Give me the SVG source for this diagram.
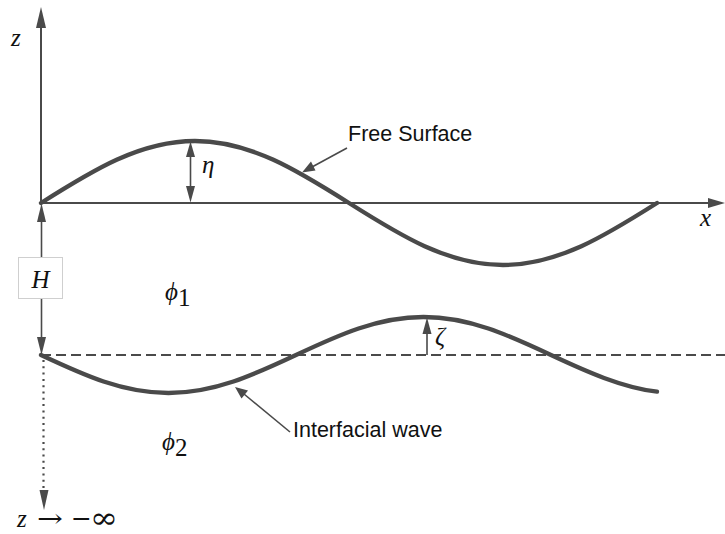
<svg xmlns="http://www.w3.org/2000/svg" width="725" height="534" viewBox="0 0 725 534">
<style>
.axis{stroke:#4a4a4a;stroke-width:2;fill:none}
.wave{stroke:#4a4a4a;stroke-width:4.3;fill:none;stroke-linecap:round}
.thin{stroke:#4a4a4a;stroke-width:1.6;fill:none}
.head{fill:#4a4a4a}
.math{font-family:"Liberation Serif","DejaVu Serif",serif;font-style:italic;font-size:25px;fill:#111}
.mathn{font-family:"Liberation Serif","DejaVu Serif",serif;font-style:normal;font-size:25px;fill:#111}
.sym{font-family:"DejaVu Serif",serif;font-style:normal;fill:#111}
.lbl{font-family:"Liberation Sans",Arial,sans-serif;font-size:21.5px;fill:#111}
</style>
<rect width="725" height="534" fill="#fff"/>
<g id="connectors">
  <line class="axis" x1="41" y1="203" x2="41" y2="26"/>
  <polygon class="head" points="41,7 36,28 46,28"/>
  <line class="axis" x1="41" y1="203" x2="708" y2="203"/>
  <polygon class="head" points="725,203 708,198 708,208"/>
  <line x1="41" y1="355" x2="725" y2="355" stroke="#4a4a4a" stroke-width="2" stroke-dasharray="10,5"/>
  <line class="thin" x1="190.5" y1="155" x2="190.5" y2="187"/>
  <polygon class="head" points="190.5,141.5 186,157 195,157"/>
  <polygon class="head" points="190.5,202.5 186,186 195,186"/>
  <line class="thin" x1="427" y1="355" x2="427" y2="332"/>
  <polygon class="head" points="427,317.5 422.5,334 431.5,334"/>
  <line class="thin" x1="41.5" y1="257" x2="41.5" y2="220"/>
  <polygon class="head" points="41.5,203.5 37,222 46,222"/>
  <line class="thin" x1="41.5" y1="299" x2="41.5" y2="340"/>
  <polygon class="head" points="41.5,355 37,337 46,337"/>
  <line x1="43.5" y1="360" x2="43.5" y2="492" stroke="#4a4a4a" stroke-width="2.2" stroke-dasharray="2,4.3"/>
  <polygon class="head" points="44,510 39.5,490 48.5,490"/>
  <line class="thin" x1="347" y1="148" x2="312" y2="167"/>
  <polygon class="head" points="302,172.5 311,161.5 315.5,170.5"/>
  <line class="thin" x1="290" y1="432" x2="244" y2="394"/>
  <polygon class="head" points="235,387 241.5,398.5 248,390.5"/>
</g>
<g id="free-surface">
  <path class="wave" d="M41,203 C92.5,170.4 139.9,141 195,141 S297.5,170.4 349,203 S447.9,265 503,265 S605.5,235.6 657,203"/>
  <text class="lbl" x="348" y="141">Free Surface</text>
</g>
<g id="interfacial-wave">
  <path class="wave" d="M41,355 C83.6,375 122.8,393 168.5,393 S253.4,375 296,355 S377.8,317 423.5,317 S508.4,335 551,355 C586.3,371.5 621.7,387.4 657,391.7"/>
  <text class="lbl" x="293" y="437">Interfacial wave</text>
</g>
<g id="H-box">
  <rect x="18.5" y="257.5" width="44" height="41" fill="#fff" stroke="#cfcfcf" stroke-width="1"/>
  <text class="math" x="40.5" y="288" text-anchor="middle">H</text>
</g>
<g id="labels">
  <text class="math" x="11" y="46">z</text>
  <text class="math" x="700" y="226">x</text>
  <text class="math" x="202" y="173">η</text>
  <text class="math" x="435" y="345">ζ</text>
  <text class="math" x="165" y="300">ϕ<tspan class="mathn" font-size="18" dy="6">1</tspan></text>
  <text class="math" x="162" y="450">ϕ<tspan class="mathn" font-size="18" dy="6">2</tspan></text>
  <text class="math" x="17" y="527">z</text>
  <text class="sym" x="37" y="527" font-size="25" textLength="26" lengthAdjust="spacingAndGlyphs">→</text>
  <text class="sym" x="71" y="527" font-size="25">−</text>
  <text class="sym" x="90" y="528" font-size="30" textLength="28" lengthAdjust="spacingAndGlyphs">∞</text>
</g>
</svg>
